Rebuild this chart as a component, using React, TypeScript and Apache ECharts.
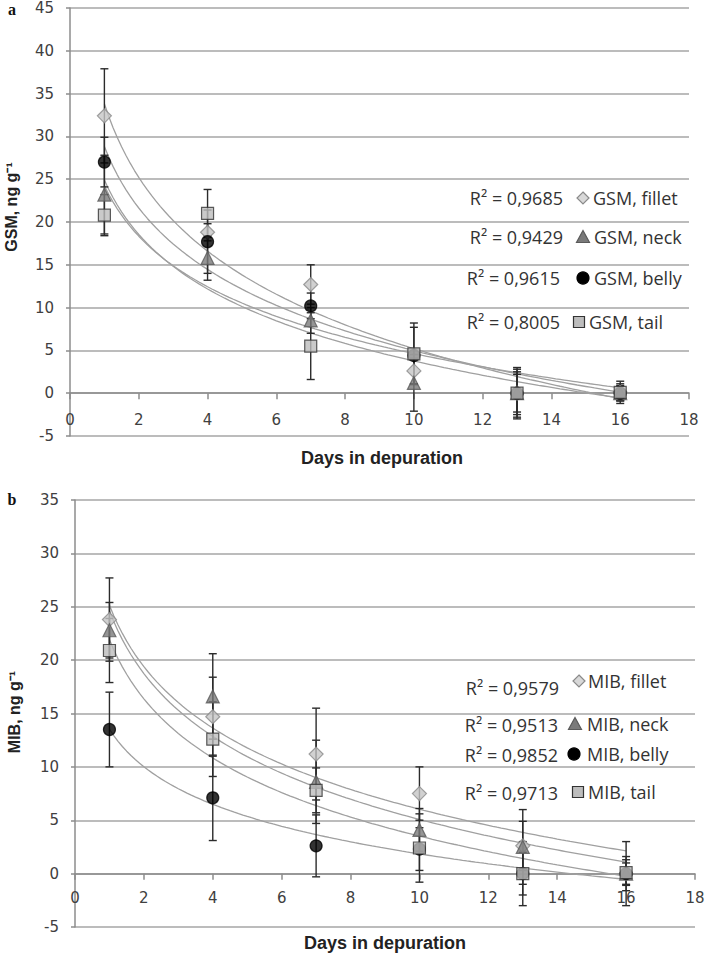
import React, { useEffect, useRef } from "react";
import * as echarts from "echarts";

const days = [1, 4, 7, 10, 13, 16];

// GSM (panel a)
const gsmFillet = [32.4, 18.8, 12.7, 2.6, 0.0, 0.1];
const gsmFilletErr = [5.5, 1.0, 2.3, 1.5, 2.8, 1.3];
const gsmNeck = [23.2, 15.8, 8.5, 1.2, 0.0, 0.0];
const gsmNeckErr = [4.6, 2.6, 1.5, 3.3, 2.2, 0.9];
const gsmBelly = [27.0, 17.7, 10.2, 4.4, 0.0, 0.0];
const gsmBellyErr = [2.9, 3.7, 1.5, 3.3, 2.5, 0.8];
const gsmTail = [20.8, 21.0, 5.5, 4.6, 0.0, 0.1];
const gsmTailErr = [2.4, 2.8, 3.9, 3.6, 3.0, 1.0];
const gsmR2 = ["0,9685", "0,9429", "0,9615", "0,8005"];

// MIB (panel b)
const mibFillet = [23.8, 14.7, 11.2, 7.5, 2.6, 0.0];
const mibFilletErr = [3.9, 3.7, 4.3, 2.5, 2.3, 3.0];
const mibNeck = [22.8, 16.6, 8.6, 4.1, 2.5, 0.0];
const mibNeckErr = [2.6, 4.0, 3.9, 2.0, 3.5, 1.6];
const mibBelly = [13.5, 7.1, 2.6, 2.3, 0.0, 0.0];
const mibBellyErr = [3.5, 4.0, 2.9, 2.0, 2.0, 1.0];
const mibTail = [20.9, 12.6, 7.8, 2.4, 0.0, 0.1];
const mibTailErr = [3.0, 3.5, 2.1, 3.2, 3.0, 1.2];
const mibR2 = ["0,9579", "0,9513", "0,9852", "0,9713"];

const parts = ["fillet", "neck", "belly", "tail"];

const styles: Record<string, any> = {
  fillet: { symbol: "diamond", size: 14, fill: "#c6c6c6", stroke: "#8a8a8a" },
  neck: { symbol: "triangle", size: 13, fill: "#7a7a7a", stroke: "#5a5a5a" },
  belly: { symbol: "circle", size: 12, fill: "#000000", stroke: "#000000" },
  tail: { symbol: "rect", size: 12, fill: "#bdbdbd", stroke: "#333333" },
};

function logFit(xs: number[], ys: number[]) {
  const lx = xs.map((x) => Math.log(x));
  const n = xs.length;
  const mx = lx.reduce((a, b) => a + b, 0) / n;
  const my = ys.reduce((a, b) => a + b, 0) / n;
  let sxy = 0;
  let sxx = 0;
  for (let i = 0; i < n; i++) {
    sxy += (lx[i] - mx) * (ys[i] - my);
    sxx += (lx[i] - mx) * (lx[i] - mx);
  }
  const a = sxy / sxx;
  const b = my - a * mx;
  const pts: number[][] = [];
  const x0 = xs[0];
  const x1 = xs[n - 1];
  const steps = 120;
  for (let k = 0; k <= steps; k++) {
    const x = x0 + ((x1 - x0) * k) / steps;
    pts.push([x, a * Math.log(x) + b]);
  }
  return pts;
}

function buildSeries(gi: number, vals: number[][], errs: number[][]) {
  const out: any[] = [];
  parts.forEach((p, i) => {
    out.push({
      type: "line",
      xAxisIndex: gi,
      yAxisIndex: gi,
      data: logFit(days, vals[i]),
      showSymbol: false,
      smooth: false,
      silent: true,
      lineStyle: { color: "#a0a0a0", width: 1.3 },
      z: 2,
    });
  });
  parts.forEach((p, i) => {
    out.push({
      type: "custom",
      xAxisIndex: gi,
      yAxisIndex: gi,
      data: days.map((d, j) => [d, vals[i][j], errs[i][j]]),
      encode: { x: 0, y: 1 },
      z: 3,
      renderItem: (params: any, api: any) => {
        const x = api.value(0);
        const y = api.value(1);
        const e = api.value(2);
        const t = api.coord([x, y + e]);
        const b = api.coord([x, y - e]);
        const w = 4;
        const st = { stroke: "#2b2b2b", lineWidth: 1.4 };
        return {
          type: "group",
          children: [
            { type: "line", shape: { x1: t[0], y1: t[1], x2: b[0], y2: b[1] }, style: st },
            { type: "line", shape: { x1: t[0] - w, y1: t[1], x2: t[0] + w, y2: t[1] }, style: st },
            { type: "line", shape: { x1: b[0] - w, y1: b[1], x2: b[0] + w, y2: b[1] }, style: st },
          ],
        };
      },
    });
  });
  parts.forEach((p, i) => {
    const s = styles[p];
    out.push({
      type: "scatter",
      xAxisIndex: gi,
      yAxisIndex: gi,
      data: days.map((d, j) => [d, vals[i][j]]),
      symbol: s.symbol,
      symbolSize: s.size,
      itemStyle: { color: s.fill, borderColor: s.stroke, borderWidth: 1.2 },
      z: 4 + i,
    });
  });
  return out;
}

function marker(kind: string, x: number, y: number) {
  const s = styles[kind];
  const style = { fill: s.fill, stroke: s.stroke, lineWidth: 1.2 };
  if (kind === "fillet") {
    return { type: "polygon", shape: { points: [[x, y - 6], [x + 6, y], [x, y + 6], [x - 6, y]] }, style: { fill: "#d8d8d8", stroke: "#8a8a8a", lineWidth: 1.2 } };
  }
  if (kind === "neck") {
    return { type: "polygon", shape: { points: [[x, y - 6.5], [x + 6.5, y + 5.5], [x - 6.5, y + 5.5]] }, style };
  }
  if (kind === "belly") {
    return { type: "circle", shape: { cx: x, cy: y, r: 6 }, style };
  }
  return { type: "rect", shape: { x: x - 5.5, y: y - 5.5, width: 11, height: 11 }, style };
}

const legendFont = "18px 'Open Sans', sans-serif";
const tickFamily = "DejaVu Sans";

function legendRows(prefix: string, r2: string[], rows: { ry: number; my: number; rx: number; mx: number; nx: number }[]) {
  const els: any[] = [];
  rows.forEach((r, i) => {
    els.push({
      type: "text",
      x: r.rx,
      y: r.ry,
      style: { text: "R² = " + r2[i], font: legendFont, fill: "#333", textAlign: "right", textVerticalAlign: "middle" },
    });
    els.push(marker(parts[i], r.mx, r.my));
    els.push({
      type: "text",
      x: r.nx,
      y: r.my,
      style: { text: prefix + ", " + parts[i], font: legendFont, fill: "#333", textAlign: "left", textVerticalAlign: "middle" },
    });
  });
  return els;
}

function axisPair(gi: number, yMax: number, gridHeight: number) {
  const pxPerUnit = gridHeight / (yMax + 5);
  const x = {
    type: "value",
    gridIndex: gi,
    min: 0,
    max: 18,
    interval: 2,
    position: "bottom",
    offset: -5 * pxPerUnit,
    axisLine: { show: true, onZero: false, lineStyle: { color: "#8c8c8c", width: 1.5 } },
    axisTick: { show: true, length: 6, lineStyle: { color: "#8c8c8c", width: 1.5 } },
    axisLabel: { fontFamily: tickFamily, fontSize: 15, color: "#404040", margin: gi === 0 ? 19 : 17 },
    splitLine: { show: false },
  };
  const y = {
    type: "value",
    gridIndex: gi,
    min: -5,
    max: yMax,
    interval: 5,
    axisLine: { show: true, onZero: false, lineStyle: { color: "#8c8c8c", width: 1.5 } },
    axisTick: { show: true, length: 4, lineStyle: { color: "#8c8c8c", width: 1.5 } },
    axisLabel: { fontFamily: tickFamily, fontSize: 15, color: "#404040", margin: 16 },
    splitLine: { show: true, lineStyle: { color: "#a6a6a6", width: 1.5 } },
  };
  return { x, y };
}

export default function App() {
  const ref = useRef<HTMLDivElement>(null);
  useEffect(() => {
    if (!ref.current) return;
    const chart = echarts.init(ref.current, null, { renderer: "svg" });
    const a0 = axisPair(0, 45, 428);
    const a1 = axisPair(1, 35, 427);
    const xTitleFont = "bold 18px 'Liberation Sans', sans-serif";
    const yTitleFont = "bold 16px 'Liberation Sans', sans-serif";
    const option: any = {
      animation: false,
      backgroundColor: "#ffffff",
      grid: [
        { left: 70, top: 8, width: 619, height: 428 },
        { left: 75, top: 500, width: 620, height: 427 },
      ],
      xAxis: [a0.x, a1.x],
      yAxis: [a0.y, a1.y],
      series: [
        ...buildSeries(0, [gsmFillet, gsmNeck, gsmBelly, gsmTail], [gsmFilletErr, gsmNeckErr, gsmBellyErr, gsmTailErr]),
        ...buildSeries(1, [mibFillet, mibNeck, mibBelly, mibTail], [mibFilletErr, mibNeckErr, mibBellyErr, mibTailErr]),
      ],
      graphic: [
        { type: "text", x: 12, y: 9, style: { text: "a", font: "bold 16px 'Liberation Serif', serif", fill: "#111", textAlign: "center", textVerticalAlign: "middle" } },
        { type: "text", x: 12, y: 499, style: { text: "b", font: "bold 16px 'Liberation Serif', serif", fill: "#111", textAlign: "center", textVerticalAlign: "middle" } },
        { type: "text", x: 382, y: 458, style: { text: "Days in depuration", font: xTitleFont, fill: "#222", textAlign: "center", textVerticalAlign: "middle" } },
        { type: "text", x: 385, y: 943, style: { text: "Days in depuration", font: xTitleFont, fill: "#222", textAlign: "center", textVerticalAlign: "middle" } },
        { type: "text", x: 11, y: 207, rotation: Math.PI / 2, style: { text: "GSM, ng g⁻¹", font: yTitleFont, fill: "#222", textAlign: "center", textVerticalAlign: "middle" } },
        { type: "text", x: 14, y: 712, rotation: Math.PI / 2, style: { text: "MIB, ng g⁻¹", font: yTitleFont, fill: "#222", textAlign: "center", textVerticalAlign: "middle" } },
        ...legendRows("GSM", gsmR2, [
          { ry: 198, my: 198, rx: 563, mx: 583, nx: 593 },
          { ry: 237, my: 237, rx: 563, mx: 583, nx: 594 },
          { ry: 278, my: 278, rx: 560, mx: 583, nx: 594 },
          { ry: 322, my: 322, rx: 560, mx: 579, nx: 589 },
        ]),
        ...legendRows("MIB", mibR2, [
          { ry: 688, my: 681, rx: 559, mx: 579, nx: 588 },
          { ry: 725, my: 724, rx: 558, mx: 575, nx: 587 },
          { ry: 755, my: 754, rx: 558, mx: 574, nx: 587 },
          { ry: 793, my: 792, rx: 558, mx: 578, nx: 588 },
        ]),
      ],
    };
    chart.setOption(option);
    return () => chart.dispose();
  }, []);
  return (
    <div
      ref={ref}
      style={{ position: "absolute", left: 0, top: 0, width: 708, height: 959 }}
    />
  );
}
